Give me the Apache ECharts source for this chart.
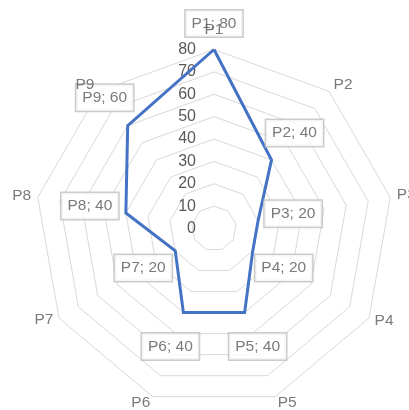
<!DOCTYPE html>
<html>
<head>
<meta charset="utf-8">
<script src="https://cdn.jsdelivr.net/npm/echarts@6/dist/echarts.min.js"></script>
<style>
html,body{margin:0;padding:0;background:#fff;}
#chart{width:409px;height:410px;}
</style>
</head>
<body>
<div id="chart"></div>
<script>
// ---- data ----
const categories = ['P1','P2','P3','P4','P5','P6','P7','P8','P9'];
const values = [80, 40, 20, 20, 40, 40, 20, 40, 60];
const axisMin = 0;
const axisMax = 80;
const axisSplits = 8;

// ---- layout (label placement, px) ----
const valueLabelOffsets = [[0,-26],[23,-27],[35,-7],[31,17],[13,34],[-13,34],[-32,17],[-36,-7],[-23,-28]];
const nameOffsets = [[0,-20],[14,-7],[16,-3],[15,3],[12,6],[-12,6],[-15,2],[-16,-2],[-14,-7]];

const CX = 214, CY = 228.5, R = 179;
const FONT = 'Liberation Sans';
const GRAY = '#595959';

// ECharts radar lays indicators out counter-clockwise; reorder so P1..P9 run clockwise
const order = categories.map((c, i) => (categories.length - i) % categories.length);

const chart = echarts.init(document.getElementById('chart'), null, {renderer:'canvas'});

const indicators = order.map((k, j) => {
  const ind = {name: categories[k], min: axisMin, max: axisMax};
  if (j === 0) ind.axisLabel = {show: true};
  return ind;
});
const radarValues = order.map(k => values[k]);

chart.setOption({
  backgroundColor: '#ffffff',
  animation: false,
  radar: {
    center: [CX, CY],
    radius: R,
    startAngle: 90,
    shape: 'polygon',
    splitNumber: axisSplits,
    indicator: indicators,
    axisName: {show: false},
    axisLine: {show: false},
    axisTick: {show: false},
    axisLabel: {
      show: false,
      color: GRAY,
      fontFamily: FONT,
      fontSize: 16,
      margin: 18
    },
    splitLine: {lineStyle: {color: '#D9D9D9', width: 1}},
    splitArea: {show: false}
  },
  polar: {center: [CX, CY], radius: R},
  angleAxis: {
    type: 'category',
    data: categories,
    startAngle: 90 + 180 / categories.length,
    boundaryGap: true,
    show: false
  },
  radiusAxis: {min: axisMin, max: axisMax, show: false},
  series: [
    {
      type: 'radar',
      symbol: 'none',
      silent: true,
      z: 2,
      lineStyle: {color: '#4472C4', width: 3, join: 'miter'},
      data: [{value: radarValues, name: 'Series'}]
    },
    {
      type: 'scatter',
      coordinateSystem: 'polar',
      silent: true,
      z: 3,
      symbolSize: 1,
      itemStyle: {color: 'rgba(0,0,0,0)'},
      data: categories.map((c, i) => ({
        value: [values[i], c],
        label: {offset: valueLabelOffsets[i]}
      })),
      label: {
        show: true,
        position: 'inside',
        formatter: p => p.value[1] + '; ' + p.value[0],
        color: GRAY,
        fontFamily: FONT,
        fontSize: 15.5,
        lineHeight: 17,
        backgroundColor: '#ffffff',
        borderColor: '#BFBFBF',
        borderWidth: 1.5,
        padding: [5, 6, 4, 6]
      }
    },
    {
      type: 'scatter',
      coordinateSystem: 'polar',
      silent: true,
      z: 4,
      symbolSize: 1,
      itemStyle: {color: 'rgba(0,0,0,0)'},
      data: categories.map((c, i) => ({
        value: [axisMax, c],
        label: {offset: nameOffsets[i]}
      })),
      label: {
        show: true,
        position: 'inside',
        formatter: p => p.value[1],
        color: GRAY,
        fontFamily: FONT,
        fontSize: 15.5
      }
    }
  ]
});
</script>
</body>
</html>
